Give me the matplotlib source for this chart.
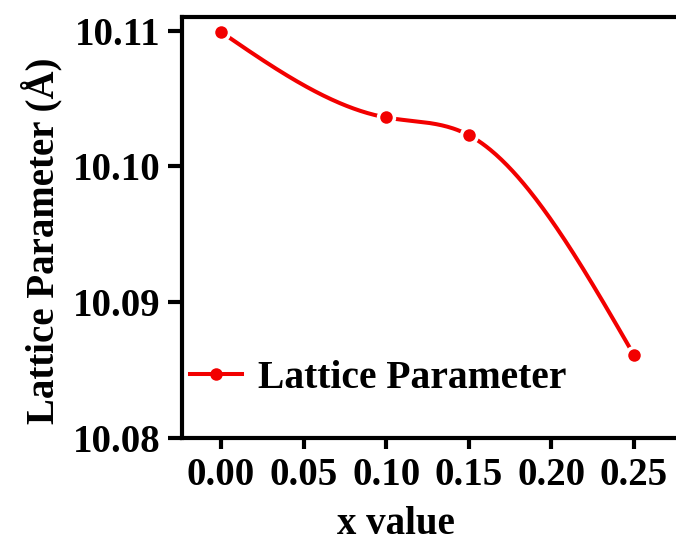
import numpy as np
import matplotlib
matplotlib.use("Agg")
import matplotlib.pyplot as plt

x_vals = [0.00, 0.10, 0.15, 0.25]
lattice = [10.1099, 10.1036, 10.1023, 10.0861]
xticks = [0.00, 0.05, 0.10, 0.15, 0.20, 0.25]
yticks = [10.08, 10.09, 10.10, 10.11]

def natural_spline(x, y, xs):
    x = np.asarray(x, float); y = np.asarray(y, float)
    n = len(x)
    h = np.diff(x)
    A = np.zeros((n, n)); b = np.zeros(n)
    A[0, 0] = 1; A[-1, -1] = 1
    for i in range(1, n - 1):
        A[i, i - 1] = h[i - 1]
        A[i, i] = 2 * (h[i - 1] + h[i])
        A[i, i + 1] = h[i]
        b[i] = 6 * ((y[i + 1] - y[i]) / h[i] - (y[i] - y[i - 1]) / h[i - 1])
    M = np.linalg.solve(A, b)
    out = np.empty_like(xs)
    for k, t in enumerate(xs):
        i = min(max(np.searchsorted(x, t) - 1, 0), n - 2)
        a = x[i + 1] - t; c = t - x[i]
        out[k] = (M[i] * a**3 + M[i + 1] * c**3) / (6 * h[i]) \
            + (y[i] / h[i] - M[i] * h[i] / 6) * a \
            + (y[i + 1] / h[i] - M[i + 1] * h[i] / 6) * c
    return out

plt.rcParams['font.family'] = ['Liberation Serif', 'DejaVu Serif']
plt.rcParams['font.weight'] = 'bold'

W, H = 676, 543
fig = plt.figure(figsize=(W/100, H/100), dpi=100)
ax = fig.add_axes([182/W, 105/H, 1 - 182/W, (438-17)/H])

xs = np.linspace(x_vals[0], x_vals[-1], 300)
ys = natural_spline(x_vals, lattice, xs)
red = '#f20000'
ax.plot(xs, ys, color=red, lw=2.9, zorder=2)
ax.plot(x_vals, lattice, 'o', color='white', ms=14, mew=0, zorder=3)
ax.plot(x_vals, lattice, 'o', color=red, ms=9, mew=0, zorder=4)
handle, = ax.plot([], [], '-o', color=red, lw=2.9, ms=9, mew=0)

ax.set_xlim(-0.0236, 0.2754)
ax.set_ylim(10.08, 10.1110)
ax.set_xticks(xticks)
ax.set_xticklabels([f"{v:.2f}" for v in xticks])
ax.set_yticks(yticks)
ax.set_yticklabels([f"{v:.2f}" for v in yticks])

for s in ['left', 'bottom', 'top']:
    ax.spines[s].set_linewidth(3.0)
ax.spines['right'].set_visible(False)
ax.tick_params(direction='out', width=3.0, labelsize=28)
ax.tick_params(axis='y', length=10, pad=5.5)
ax.tick_params(axis='x', length=8, pad=6)

ax.set_xlabel('x value', fontsize=28, fontweight='bold', va='baseline')
ax.xaxis.set_label_coords((396-182)/494, (438-534)/421)
ax.set_ylabel('Lattice Parameter (Å)', fontsize=28, fontweight='bold', va='baseline')
ax.yaxis.set_label_coords((53-182)/494, (438-241)/421)

ax.legend([handle], ['Lattice Parameter'], loc='center left',
          bbox_to_anchor=(190/W, (H-378)/H), bbox_transform=fig.transFigure,
          frameon=False, handlelength=1.31, handletextpad=0.4,
          borderpad=0, borderaxespad=0,
          prop={'weight': 'bold', 'size': 28.5})

fig.savefig('out.png', dpi=100)
